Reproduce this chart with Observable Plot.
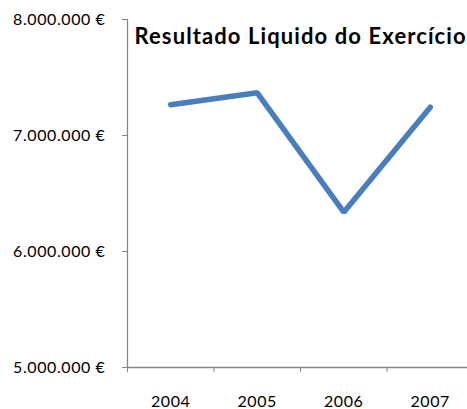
<!DOCTYPE html>
<html>
<head>
<meta charset="utf-8">
<script src="https://cdn.jsdelivr.net/npm/d3@7"></script>
<script src="https://cdn.jsdelivr.net/npm/@observablehq/plot@0.6"></script>
<style>
  html, body { margin: 0; padding: 0; background: #fff; }
  .chart-title text { letter-spacing: 1.1px; }
  .tick-labels text { letter-spacing: 0.6px; }
</style>
</head>
<body>
<div id="chart"></div>
<script>
const title = "Resultado Liquido do Exercício";
const years = [2004, 2005, 2006, 2007];
const values = [7265000, 7368000, 6339000, 7244000];
const yTicks = [5000000, 6000000, 7000000, 8000000];

const data = years.map((year, i) => ({year, value: values[i]}));
const boundaries = [...years.map(y => y - 0.5), years[years.length - 1] + 0.5];
const fmt = d => d3.format(",")(d).replace(/,/g, ".") + " €";
const axisColor = "#868686";

const chart = Plot.plot({
  width: 467,
  height: 409,
  marginLeft: 127,
  marginRight: 0,
  marginTop: 19,
  marginBottom: 42,
  style: {fontFamily: "Lato, sans-serif", fontSize: "16px", color: "#000", background: "#fff"},
  x: {type: "linear", domain: [boundaries[0], boundaries[boundaries.length - 1]], range: [127, 473], label: null},
  y: {domain: [5000000, 8000000], range: [367, 19], label: null},
  marks: [
    Plot.ruleY([5000000], {stroke: axisColor, strokeWidth: 1.3}),
    Plot.ruleX([boundaries[0]], {stroke: axisColor, strokeWidth: 1.3}),
    Plot.axisY({ticks: yTicks, tickFormat: fmt, tickSize: 5, tickPadding: 17, stroke: axisColor, fill: "#000", fontSize: 16, label: null, className: "tick-labels"}),
    Plot.axisX({ticks: boundaries, tickFormat: () => "", tickSize: 5, stroke: axisColor, label: null}),
    Plot.axisX({ticks: years, tickFormat: d => String(d), tickSize: 0, tickPadding: 28, fill: "#000", fontSize: 16, label: null, className: "tick-labels"}),
    Plot.line(data, {x: "year", y: "value", stroke: "#4a7ebb", strokeWidth: 5.5, strokeLinecap: "round", strokeLinejoin: "miter"}),
    Plot.text([title], {frameAnchor: "top-left", dx: 7, dy: 9, lineAnchor: "top", textAnchor: "start", fontWeight: "bold", fontSize: 22, fill: "#000", className: "chart-title"})
  ]
});
document.getElementById("chart").appendChild(chart);
</script>
</body>
</html>
